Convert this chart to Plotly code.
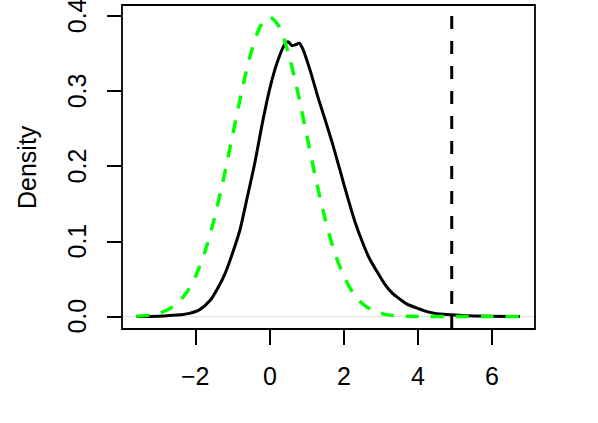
import plotly.graph_objects as go

# black curve: kernel density estimate
dens_x = [-3.6, -3.0, -2.5, -2.2, -1.9, -1.6, -1.4, -1.2, -1.0, -0.8, -0.6, -0.4, -0.2,
          0.0, 0.2, 0.4, 0.5, 0.6, 0.7, 0.8, 0.9, 1.1, 1.3, 1.5, 1.7, 1.9, 2.1, 2.3,
          2.5, 2.7, 2.9, 3.1, 3.3, 3.5, 3.7, 4.0, 4.3, 4.7, 5.2, 6.0, 6.76]
dens_y = [0.0, 0.0005, 0.002, 0.004, 0.009, 0.022, 0.038, 0.058, 0.085, 0.116, 0.160, 0.205, 0.257,
          0.303, 0.338, 0.362, 0.366, 0.361, 0.362, 0.364, 0.356, 0.327, 0.293, 0.262, 0.230, 0.195, 0.160, 0.127,
          0.100, 0.077, 0.060, 0.044, 0.032, 0.024, 0.017, 0.011, 0.006, 0.003, 0.0015, 0.0005, 0.0001]

# green dashed curve (reference normal density)
norm_x = [-3.6, -3.25, -3.0, -2.75, -2.5, -2.25, -2.0, -1.75, -1.5, -1.25, -1.0, -0.75, -0.5, -0.25,
          0.0, 0.25, 0.5, 0.75, 1.0, 1.25, 1.5, 1.75, 2.0, 2.25, 2.5, 2.75, 3.0, 3.25, 3.5,
          4.0, 5.0, 6.0, 6.76]
norm_y = [0.0006, 0.0020, 0.0044, 0.0091, 0.0175, 0.0317, 0.0540, 0.0863, 0.1295, 0.1826, 0.2420, 0.3011, 0.3521, 0.3867,
          0.3989, 0.3867, 0.3521, 0.3011, 0.2420, 0.1826, 0.1295, 0.0863, 0.0540, 0.0317, 0.0175, 0.0091, 0.0044, 0.0020, 0.0009,
          0.0001, 0.0, 0.0, 0.0]

cutoff = 4.92
x_ticks = [-2, 0, 2, 4, 6]
x_labels = ['\u22122', '0', '2', '4', '6']
y_ticks = [0.0, 0.1, 0.2, 0.3, 0.4]
y_labels = ['0.0', '0.1', '0.2', '0.3', '0.4']

font = 'Liberation Sans, Arial, sans-serif'
fsize = 25

fig = go.Figure()

fig.add_trace(go.Scatter(
    x=dens_x, y=dens_y, mode='lines',
    line=dict(color='black', width=3, shape='spline', smoothing=0.7),
    hoverinfo='skip'
))
fig.add_trace(go.Scatter(
    x=norm_x, y=norm_y, mode='lines',
    line=dict(color='#00ff00', width=3.5, dash='13px,12px', shape='spline', smoothing=0.7),
    hoverinfo='skip'
))

# light gray zero line
fig.add_shape(type='line', xref='paper', yref='y', x0=0, x1=1, y0=0, y1=0,
              line=dict(color='#dedede', width=1), layer='below')
# vertical dashed cutoff
fig.add_shape(type='line', xref='x', yref='paper', x0=cutoff, x1=cutoff, y0=0, y1=1,
              line=dict(color='black', width=3, dash='13px,12px'))
# plot frame
fig.add_shape(type='rect', xref='paper', yref='paper', x0=0, x1=1, y0=0, y1=1,
              line=dict(color='black', width=1.8))

# tick labels as annotations (R style, y labels parallel to axis)
for v, t in zip(x_ticks, x_labels):
    fig.add_annotation(x=v, xref='x', y=0, yref='paper', text=t, showarrow=False,
                       yanchor='middle', yshift=-47, font=dict(size=fsize))
for v, t in zip(y_ticks, y_labels):
    fig.add_annotation(x=0, xref='paper', y=v, yref='y', text=t, showarrow=False,
                       textangle=-90, xanchor='center', xshift=-45, font=dict(size=fsize))
fig.add_annotation(x=0, xref='paper', y=0.5, yref='paper', text='Density', showarrow=False,
                   textangle=-90, xanchor='center', xshift=-95, font=dict(size=fsize))

fig.update_layout(
    width=598, height=423,
    margin=dict(l=122, r=63, t=5, b=94),
    paper_bgcolor='white', plot_bgcolor='white',
    showlegend=False,
    font=dict(family=font, color='black', size=fsize),
    xaxis=dict(
        range=[-3.99, 7.17], showgrid=False, zeroline=False, showline=False,
        tickvals=x_ticks, showticklabels=False, automargin=False,
        ticks='outside', ticklen=15, tickwidth=1.5, tickcolor='black'
    ),
    yaxis=dict(
        range=[-0.0165, 0.415], showgrid=False, zeroline=False, showline=False,
        tickvals=y_ticks, showticklabels=False, automargin=False,
        ticks='outside', ticklen=14, tickwidth=1.5, tickcolor='black'
    )
)

# drop the default page margin so the figure sits at the window's corner
fig.write_html("out.html", config={'displayModeBar': False},
               post_script="document.body.style.margin='0';")
